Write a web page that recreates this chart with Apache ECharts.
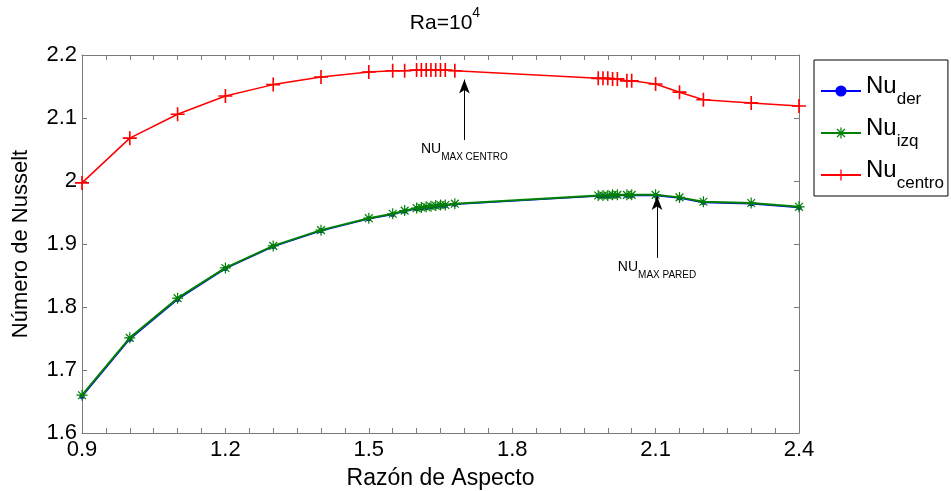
<!DOCTYPE html>
<html><head><meta charset="utf-8">
<script src="https://cdn.jsdelivr.net/npm/echarts@6/dist/echarts.min.js"></script>
<style>html,body{margin:0;padding:0;background:#fff}#c{width:951px;height:491px}</style>
</head><body><div id="c"></div>
<script>
// Aspect ratios (x values)
const aspect = [0.9, 1.0, 1.1, 1.2, 1.3, 1.4, 1.5, 1.55, 1.575, 1.6, 1.61, 1.62, 1.63, 1.64, 1.65, 1.66, 1.68,
  1.98, 1.99, 2.0, 2.01, 2.02, 2.04, 2.05, 2.1, 2.15, 2.2, 2.3, 2.4];
// Nusselt numbers
const nuDer = [1.658, 1.749, 1.812, 1.861, 1.896, 1.921, 1.940, 1.947, 1.952, 1.956, 1.957, 1.958, 1.959, 1.960, 1.961, 1.961, 1.963,
  1.976, 1.976, 1.976, 1.977, 1.977, 1.977, 1.977, 1.977, 1.973, 1.966, 1.964, 1.958];
const nuIzq = [1.660, 1.751, 1.814, 1.862, 1.897, 1.922, 1.941, 1.948, 1.953, 1.957, 1.958, 1.959, 1.960, 1.961, 1.962, 1.962, 1.964,
  1.977, 1.977, 1.977, 1.978, 1.978, 1.978, 1.978, 1.978, 1.974, 1.967, 1.965, 1.959];
const nuCentro = [1.997, 2.068, 2.106, 2.135, 2.153, 2.165, 2.173, 2.175, 2.175, 2.176, 2.176, 2.176, 2.176, 2.176, 2.176, 2.176, 2.175,
  2.163, 2.163, 2.163, 2.162, 2.162, 2.159, 2.159, 2.154, 2.141, 2.129, 2.124, 2.119];
const xTickLabels = [0.9, 1.2, 1.5, 1.8, 2.1, 2.4];
const seriesNames = ['Nu_der', 'Nu_izq', 'Nu_centro'];
const subs = {'Nu_der': 'der', 'Nu_izq': 'izq', 'Nu_centro': 'centro'};
// annotation arrows [x, yStart, yEnd]
const arrowCentro = [1.7, 2.065, 2.161];
const arrowPared = [2.103, 1.878, 1.976];

const pairs = (ys) => aspect.map((x, i) => [x, ys[i]]);
const FONT = '"Liberation Sans", Arial, sans-serif';
const AX = '#7a7a7a';

const plusPath = 'path://M5.3,0 L6.7,0 L6.7,12 L5.3,12 Z M0,5.3 L12,5.3 L12,6.7 L0,6.7 Z';
const starPath = 'path://M5.35,0 L6.65,0 L6.65,12 L5.35,12 Z M0,5.35 L12,5.35 L12,6.65 L0,6.65 Z ' +
  'M2.2,1.3 L10.7,9.8 L9.8,10.7 L1.3,2.2 Z M10.7,2.2 L2.2,10.7 L1.3,9.8 L9.8,1.3 Z';

const chart = echarts.init(document.getElementById('c'), null, {renderer: 'canvas'});

const xBase = {type: 'value', min: 0.9, max: 2.4, interval: 0.05,
  axisLine: {show: true, lineStyle: {color: AX, width: 1}},
  axisTick: {show: true, inside: true, length: 5, lineStyle: {color: AX}},
  splitLine: {show: false}};
const yBase = {type: 'value', min: 1.6, max: 2.2, interval: 0.1,
  axisLine: {show: true, lineStyle: {color: AX, width: 1}},
  axisTick: {show: true, inside: true, length: 5, lineStyle: {color: AX}},
  splitLine: {show: false}};

const arrowLabel = (sub) => ({
  show: true, position: 'start', distance: 2,
  formatter: '{a|NU}{b|' + sub + '}',
  rich: {
    a: {fontSize: 14, fontFamily: FONT, color: '#000', lineHeight: 14, verticalAlign: 'top'},
    b: {fontSize: 10, fontFamily: FONT, color: '#000', lineHeight: 20, verticalAlign: 'bottom'}
  }
});

chart.setOption({
  animation: false,
  backgroundColor: '#fff',
  title: {
    text: '{a|Ra=10}{b|4}', left: 440, top: 1, textAlign: 'center',
    textStyle: {fontWeight: 'normal', rich: {
      a: {fontSize: 21, fontFamily: FONT, fontWeight: 'normal', color: '#000', lineHeight: 28, verticalAlign: 'bottom'},
      b: {fontSize: 14, fontFamily: FONT, fontWeight: 'normal', color: '#000', lineHeight: 28, verticalAlign: 'top'}
    }}
  },
  grid: {left: 82, right: 152, top: 55, bottom: 58, outerBoundsMode: 'none', containLabel: false},
  legend: {
    data: seriesNames, orient: 'vertical', left: 814, top: 60,
    backgroundColor: '#fff', borderColor: '#000', borderWidth: 1, borderRadius: 0,
    padding: [14, 4, 4, 6], itemGap: 8, itemWidth: 40, itemHeight: 14,
    formatter: (n) => '{a|Nu}{b|' + subs[n] + '}',
    textStyle: {rich: {
      a: {fontSize: 24, fontFamily: FONT, color: '#000', lineHeight: 24, verticalAlign: 'top'},
      b: {fontSize: 17, fontFamily: FONT, color: '#000', lineHeight: 34, verticalAlign: 'bottom'}
    }}
  },
  xAxis: [
    Object.assign({}, xBase, {position: 'bottom',
      name: 'Razón de Aspecto', nameLocation: 'middle', nameGap: 34,
      nameTextStyle: {fontSize: 23, fontFamily: FONT, color: '#000'},
      axisLabel: {show: true, fontSize: 22, fontFamily: FONT, color: '#000', margin: 6,
        formatter: (v) => xTickLabels.some(t => Math.abs(t - v) < 1e-6) ? v.toFixed(1) : ''}}),
    Object.assign({}, xBase, {position: 'top', axisLabel: {show: false}})
  ],
  yAxis: [
    Object.assign({}, yBase, {position: 'left',
      name: 'Número de Nusselt', nameLocation: 'middle', nameGap: 50,
      nameTextStyle: {fontSize: 22, fontFamily: FONT, color: '#000'},
      axisLabel: {show: true, fontSize: 22, fontFamily: FONT, color: '#000', margin: 5,
        formatter: (v) => String(Number(v.toFixed(2)))}}),
    Object.assign({}, yBase, {position: 'right', axisLabel: {show: false}})
  ],
  series: [
    {name: 'Nu_der', type: 'line', data: pairs(nuDer), color: '#0000ff',
      lineStyle: {width: 1.5, color: '#0000ff'}, symbol: 'circle', symbolSize: 5,
      itemStyle: {color: '#0000ff'}, z: 2},
    {name: 'Nu_izq', type: 'line', data: pairs(nuIzq), color: '#008000',
      lineStyle: {width: 2, color: '#008000'}, symbol: starPath, symbolSize: 11,
      itemStyle: {color: '#008000'}, z: 3,
      markLine: {silent: true, symbol: ['none', 'arrow'], symbolSize: [8, 14],
        lineStyle: {color: '#000', type: 'solid', width: 1},
        label: arrowLabel('MAX PARED'),
        data: [[{coord: [arrowPared[0], arrowPared[1]]}, {coord: [arrowPared[0], arrowPared[2]]}]]}},
    {name: 'Nu_centro', type: 'line', data: pairs(nuCentro), color: '#ff0000',
      lineStyle: {width: 1.5, color: '#ff0000'}, symbol: plusPath, symbolSize: 14,
      itemStyle: {color: '#ff0000'}, z: 4,
      markLine: {silent: true, symbol: ['none', 'arrow'], symbolSize: [8, 14],
        lineStyle: {color: '#000', type: 'solid', width: 1},
        label: arrowLabel('MAX CENTRO'),
        data: [[{coord: [arrowCentro[0], arrowCentro[1]]}, {coord: [arrowCentro[0], arrowCentro[2]]}]]}}
  ]
});
</script></body></html>
